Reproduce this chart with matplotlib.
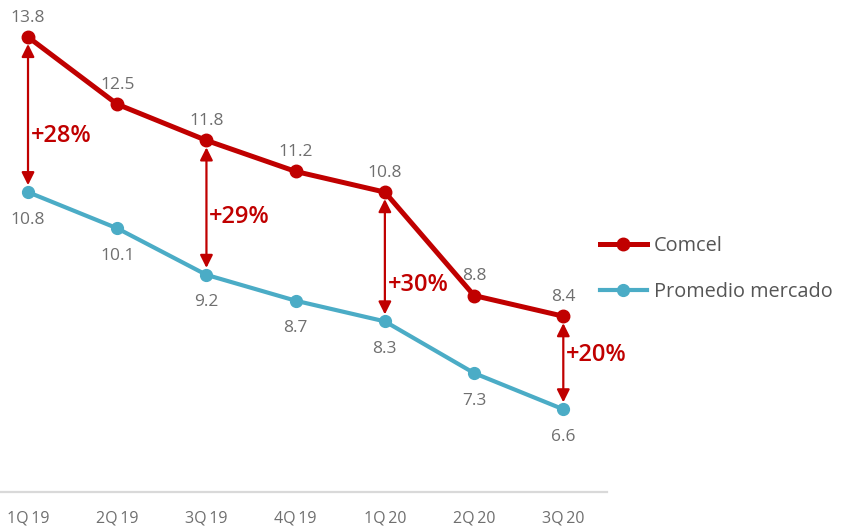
import matplotlib
matplotlib.use("Agg")
import matplotlib.pyplot as plt

plt.rcParams['font.family'] = ['Open Sans', 'DejaVu Sans']

# data
quarters = ["1Q\u200919", "2Q\u200919", "3Q\u200919", "4Q\u200919", "1Q\u200920", "2Q\u200920", "3Q\u200920"]
comcel = [13.8, 12.5, 11.8, 11.2, 10.8, 8.8, 8.4]
mercado = [10.8, 10.1, 9.2, 8.7, 8.3, 7.3, 6.6]
gap_idx = [0, 2, 4, 6]
gap_labels = ["+28%", "+29%", "+30%", "+20%"]

RED = "#C00000"
TEAL = "#4BACC6"
GREY = "#6f6f6f"

fig = plt.figure(figsize=(8.51, 5.29), dpi=100)
ax = fig.add_axes([0, 0.0699, 0.7133, 0.9301])

x = list(range(len(quarters)))
ax.plot(x, comcel, color=RED, lw=3.6, marker="o", ms=9, label="Comcel", zorder=3)
ax.plot(x, mercado, color=TEAL, lw=3.0, marker="o", ms=8.5, label="Promedio mercado", zorder=3)

for i, v in enumerate(comcel):
    ax.annotate(f"{v}", (i, v), xytext=(0, 8), textcoords="offset points",
                ha="center", va="bottom", fontsize=12.5, color=GREY)
for i, v in enumerate(mercado):
    ax.annotate(f"{v}", (i, v), xytext=(0, -14), textcoords="offset points",
                ha="center", va="top", fontsize=12.5, color=GREY)

# double arrows with percentage gap
label_frac = [0.64, 0.57, 0.72, 0.42]
for k, (i, lab) in enumerate(zip(gap_idx, gap_labels)):
    top, bot = comcel[i], mercado[i]
    ax.annotate("", xy=(i, bot), xytext=(i, top),
                arrowprops=dict(arrowstyle="<|-|>", color=RED, lw=1.6,
                                mutation_scale=19, shrinkA=5, shrinkB=5),
                zorder=2)
    ym = top - (top - bot) * label_frac[k]
    ax.annotate(lab, (i, ym), xytext=(2, 0), textcoords="offset points",
                ha="left", va="center", fontsize=17, fontweight="semibold", color=RED)

ax.set_xlim(-0.314, 6.49)
ax.set_ylim(5.0, 14.516)
ax.set_xticks(x)
ax.set_xticklabels(quarters, fontsize=11.5, color=GREY)
ax.tick_params(axis="x", length=0, pad=13)
ax.set_yticks([])
for s in ["top", "left", "right"]:
    ax.spines[s].set_visible(False)
ax.spines["bottom"].set_color("#d9d9d9")
ax.spines["bottom"].set_linewidth(1.6)

leg = fig.legend(loc="upper left", bbox_to_anchor=(0.684, 0.587), frameon=False,
                 fontsize=14.3, handlelength=2.35, labelspacing=1.3, handletextpad=0.35)
for t in leg.get_texts():
    t.set_color("#555555")

fig.savefig("out.png", dpi=100)
